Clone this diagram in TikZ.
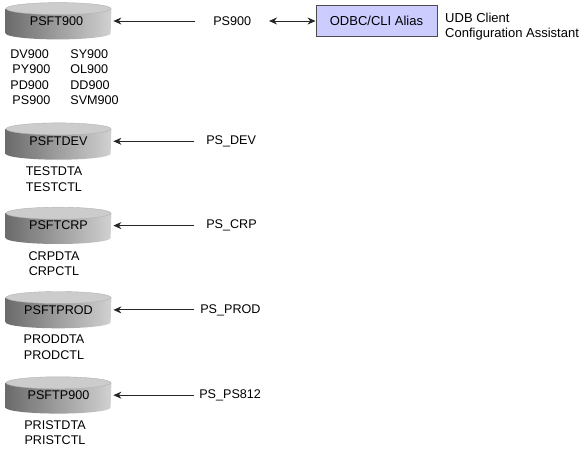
\documentclass[tikz,border=0pt]{standalone}
\usepackage{fontspec}
\setmainfont{Liberation Sans}
\usepackage{tikz}
\usetikzlibrary{arrows.meta, positioning, backgrounds}
\definecolor{aliasblue}{RGB}{204,204,255}

\begin{document}
\begin{tikzpicture}[
  x=1pt, y=1pt,
  >={Stealth[length=8pt, width=7pt]},
  line width=0.8pt,
  every node/.style = {font=\fontsize{12.6}{15.3}\selectfont, inner sep=0pt},
  dbdisk/.style  = {rectangle, minimum width=105pt, minimum height=36pt},
  dbbody/.style  = {left color=black!58, right color=black!18},
  dbend/.style   = {fill=black!20, draw=black!30, line width=0.4pt},
  dblabel/.style = {align=center},
  dbalias/.style = {minimum height=14pt},
  conn/.style    = {draw=black!85, ->, shorten >=2pt},
  aliasbox/.style = {draw=black!70, fill=aliasblue, minimum width=121pt, minimum height=31pt,
                     font=\fontsize{13}{15.3}\selectfont},
]
  \useasboundingbox (0,0) rectangle (584,-462);

  \node[dbdisk]                           (PSFT900)  at (58.5,-21) {\hspace{-4pt}PSFT900};
  \node[dbdisk, below=83.5pt of PSFT900]  (PSFTDEV)  {PSFTDEV};
  \node[dbdisk, below=47.5pt of PSFTDEV]  (PSFTCRP)  {PSFTCRP};
  \node[dbdisk, below=47.5pt of PSFTCRP]  (PSFTPROD) {PSFTPROD};
  \node[dbdisk, below=48.5pt of PSFTPROD] (PSFTP900) {PSFTP900};

  % disk bodies and flat tops go behind the names
  \begin{scope}[on background layer]
    \foreach \disk in {PSFT900, PSFTDEV, PSFTCRP, PSFTPROD, PSFTP900} {
      \shade[dbbody] ([yshift=-6pt]\disk.north west) -- ([yshift=6pt]\disk.south west)
        arc[start angle=180, end angle=360, x radius=52.5pt, y radius=6pt]
        -- ([yshift=-6pt]\disk.north east) -- cycle;
      \draw[dbend] ([yshift=-6pt]\disk.north) ellipse (52.5pt and 6pt);
    }
  \end{scope}

  % owners under each disk
  \node[dblabel, align=left, anchor=north west] (ownersleft)  at (10,-49.5) {DV900\\\,PY900\\PD900\\\,PS900};
  \node[dblabel, align=left, anchor=north west] (ownersright) at (70,-49.5) {SY900\\OL900\\DD900\\SVM900};
  \node[dblabel, below=7pt of PSFTDEV, xshift=-4.5pt]  (ownersdev)  {TESTDTA\\TESTCTL};
  \node[dblabel, below=7pt of PSFTCRP, xshift=-4.5pt]  (ownerscrp)  {CRPDTA\\CRPCTL};
  \node[dblabel, below=6.5pt of PSFTPROD, xshift=-4.5pt] (ownersprod) {PRODDTA\\PRODCTL};
  \node[dblabel, below=6.5pt of PSFTP900, xshift=-3.5pt] (ownersp900) {PRISTDTA\\PRISTCTL};

  % data source names
  \node[dbalias, inner xsep=17.5pt, right=84pt of PSFT900] (PS900) {PS900};
  \node[dbalias, inner xsep=11.5pt, right=83pt of PSFTDEV] (PSDEV) {PS\_DEV};
  \node[dbalias, inner xsep=11.5pt, right=83pt of PSFTCRP] (PSCRP) {PS\_CRP};
  \node[dbalias, inner xsep=5.5pt,  right=83pt of PSFTPROD] (PSPROD) {PS\_PROD};
  \node[dbalias, inner xsep=4.5pt,  right=83pt of PSFTP900] (PSPS812) {PS\_PS812};

  \node[aliasbox, right=46.5pt of PS900] (alias) {ODBC/CLI Alias};
  \node[align=left, anchor=west, font=\fontsize{13}{15.3}\selectfont, right=7.5pt of alias, yshift=-5.5pt] (assistant) {UDB Client\\Configuration Assistant};

  \draw[conn] (PS900)   -- (PSFT900);
  \draw[conn] (PSDEV)   -- (PSFTDEV);
  \draw[conn] (PSCRP)   -- (PSFTCRP);
  \draw[conn] (PSPROD)  -- (PSFTPROD);
  \draw[conn] (PSPS812) -- (PSFTP900);
  \draw[draw=black!85, <->] (PS900) -- (alias);
\end{tikzpicture}
\end{document}
